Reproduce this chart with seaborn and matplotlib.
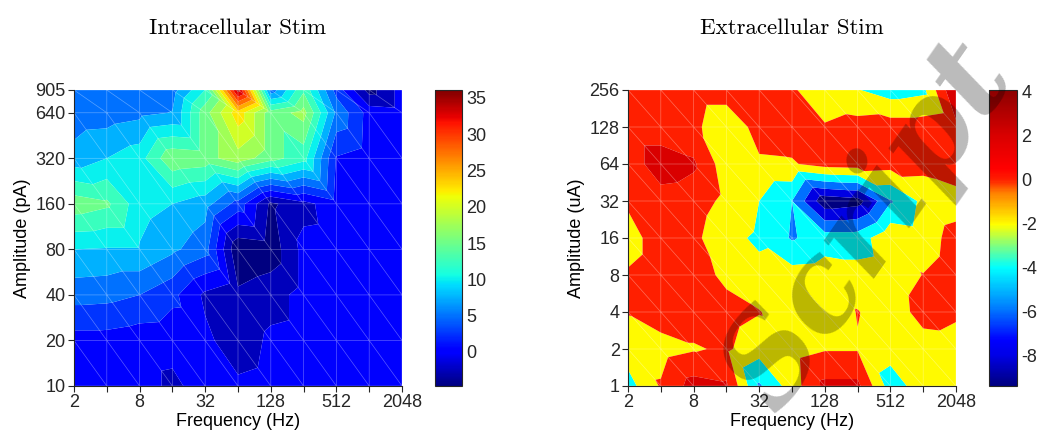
import numpy as np
import matplotlib
matplotlib.use("Agg")
import matplotlib.pyplot as plt
import matplotlib.tri as mtri
from matplotlib.colors import Normalize, LinearSegmentedColormap
from matplotlib.cm import ScalarMappable
import seaborn as sns

# ---------------------------------------------------------------- data
freq_hz = [2, 4, 8, 16, 32, 64, 128, 256, 512, 1024, 2048]
freq_ticklabels = ["2", "", "8", "", "32", "", "128", "", "512", "", "2048"]

intra_amp_pa = [10, 20, 40, 80, 160, 320, 640, 905]
extra_amp_ua = [1, 2, 4, 8, 16, 32, 64, 128, 256]

# response per amplitude row (bottom to top), one value per frequency
intra_response = [
    [1.0, 1.0, 1.0, -0.5, 1.0, 0.5, 1.0, 1.0, 1.0, 1.0, 1.0],
    [1.5, 1.5, 1.0, 0.8, 0.6, -1.5, 0.5, 0.8, 0.8, 0.8, 0.8],
    [6.0, 5.8, 5.0, 3.2, -0.5, -2.0, -1.0, 0.8, 1.0, 1.0, 1.0],
    [10.0, 9.8, 9.8, 8.0, 6.0, -4.7, -4.0, 0.8, 1.0, 1.0, 1.0],
    [16.5, 15.5, 11.0, 10.0, 8.5, 4.0, -3.0, -0.8, 1.5, 1.0, 1.0],
    [8.5, 10.0, 11.5, 17.0, 16.5, 19.0, 16.0, 13.5, 2.3, 1.2, 1.0],
    [6.0, 6.2, 6.8, 7.6, 16.5, 24.0, 16.0, 18.5, 7.0, 1.5, 1.0],
    [5.5, 5.8, 6.0, 6.5, 12.5, 36.1, 6.0, 14.5, 4.0, -3.5, 1.0],
]

extra_response = [
    [-2.8, 0.2, 2.8, 2.3, -4.3, -1.0, 2.5, 2.5, -3.0, -1.0, -1.0],
    [-1.0, -0.8, -0.2, 0.3, -1.2, -0.8, -0.15, -0.15, -1.2, -1.0, -0.8],
    [0.1, 1.0, 1.0, 0.8, 0.1, -1.2, -1.5, 0.1, -1.2, 0.8, 0.3],
    [0.2, 1.0, 1.0, -0.5, -1.5, -1.2, -1.0, -1.3, -1.0, 0.05, 1.0],
    [-0.8, 1.0, 0.5, -1.5, -2.3, -4.2, -3.0, -3.0, -0.5, -1.0, 0.8],
    [0.3, 1.2, 1.0, -0.5, -2.0, -4.0, -9.36, -8.8, -4.2, -1.5, -1.0],
    [1.0, 3.0, 2.3, -1.2, -0.3, -0.2, 0.8, 1.0, 0.8, 0.7, 1.5],
    [1.0, 1.0, 0.5, -1.5, 0.8, 1.0, 0.2, 0.8, 1.0, 1.0, 1.5],
    [1.0, 1.0, 1.0, 1.0, 1.0, 0.3, -1.5, -1.9, -3.0, -2.5, 4.05],
]

intra_levels = [-2.5, 0, 2.5, 5, 7.5, 10, 12.5, 15, 17.5, 20, 22.5, 25,
                27.5, 30, 32.5, 35]
extra_levels = [-8, -6, -4, -2, 0, 2, 4]
intra_cbar_ticks = [0, 5, 10, 15, 20, 25, 30, 35]
extra_cbar_ticks = [-8, -6, -4, -2, 0, 2, 4]

# ---------------------------------------------------------------- style
sns.set_theme(style="white")
plt.rcParams["font.family"] = ["Liberation Sans", "DejaVu Sans"]
plt.rcParams["axes.unicode_minus"] = False
INK = (0.15, 0.15, 0.15)
TICK_FS = 13

jet = plt.get_cmap("jet")

# colour map of the extracellular panel (value, colour) nodes
extra_vmin, extra_vmax = -9.36, 4.05
extra_nodes = [(-9.36, (0, 0, 0.5)), (-8.0, (0, 0, 0.9)), (-7.3, (0, 0, 1)),
               (-5.8, (0, 0.5, 1)), (-4.0, (0, 1, 1)), (-3.0, (0.5, 1, 0.5)),
               (-2.05, (1, 1, 0)), (-0.6, (1, 0.5, 0)), (0.0, (1, 0.12, 0)),
               (0.5, (1, 0, 0)), (2.0, (0.85, 0, 0)), (4.05, (0.55, 0, 0))]
extra_cmap = LinearSegmentedColormap.from_list(
    "extra_jet",
    [((v - extra_vmin) / (extra_vmax - extra_vmin), c) for v, c in extra_nodes])


def grid_triangles(nx, ny):
    tris = []
    for j in range(ny - 1):
        for i in range(nx - 1):
            bl = j * nx + i
            br = bl + 1
            tl = bl + nx
            tr = tl + 1
            tris.append([bl, br, tl])
            tris.append([br, tr, tl])
    return np.array(tris)


def draw_panel(ax, cax, amps, response, levels, cmap, ticks, ylabel):
    z = np.asarray(response, dtype=float)
    gx, gy = np.meshgrid(np.log2(freq_hz), np.log2(amps))
    tri = mtri.Triangulation(gx.ravel(), gy.ravel(),
                             grid_triangles(len(freq_hz), len(amps)))
    zf = z.ravel()
    vmin, vmax = zf.min(), zf.max()
    norm = Normalize(vmin, vmax)
    bounds = [vmin - 1e-6] + list(levels) + [vmax + 1e-6]
    band_vals = [vmin] + list(levels)
    colors = [cmap(norm(v)) for v in band_vals]
    ax.tricontourf(tri, zf, levels=bounds, colors=colors, antialiased=True)
    ax.triplot(tri, color="white", lw=0.5, alpha=0.35)

    ax.set_xlim(np.log2(freq_hz[0]), np.log2(freq_hz[-1]))
    ax.set_ylim(np.log2(amps[0]), np.log2(amps[-1]))
    ax.set_xticks(np.log2(freq_hz))
    ax.set_xticklabels(freq_ticklabels)
    ax.set_yticks(np.log2(amps))
    ax.set_yticklabels([str(a) for a in amps])
    ax.tick_params(direction="out", length=4, width=0.8, colors=INK,
                   labelsize=TICK_FS, pad=2, bottom=True, left=True)
    for s in ("top", "right"):
        ax.spines[s].set_visible(False)
    for s in ("left", "bottom"):
        ax.spines[s].set_color(INK)
        ax.spines[s].set_linewidth(0.8)
    ax.set_xlabel("Frequency (Hz)", fontsize=TICK_FS, color="black", labelpad=1)
    ax.set_ylabel(ylabel, fontsize=TICK_FS, color="black", labelpad=3)

    cb = plt.colorbar(ScalarMappable(norm=norm, cmap=cmap), cax=cax, ticks=ticks)
    cb.outline.set_edgecolor(INK)
    cb.outline.set_linewidth(0.8)
    cb.ax.tick_params(direction="in", length=4, width=0.8, colors=INK,
                      labelsize=TICK_FS, pad=3)
    cb.ax.set_yticklabels([str(t) for t in ticks])


W, H = 1044, 442
fig = plt.figure(figsize=(W / 100, H / 100), dpi=100)


def frac(x0, y0, x1, y1):
    return [x0 / W, 1 - y1 / H, (x1 - x0) / W, (y1 - y0) / H]


ax_l = fig.add_axes(frac(74, 90, 402, 386))
cax_l = fig.add_axes(frac(435, 90, 462, 386))
ax_r = fig.add_axes(frac(628, 90, 956, 386))
cax_r = fig.add_axes(frac(989, 90, 1017, 386))

draw_panel(ax_l, cax_l, intra_amp_pa, intra_response, intra_levels, jet,
           intra_cbar_ticks, "Amplitude (pA)")
draw_panel(ax_r, cax_r, extra_amp_ua, extra_response, extra_levels, extra_cmap,
           extra_cbar_ticks, "Amplitude (uA)")

fig.text(238 / W, 1 - 28 / H, "Intracellular Stim", family="cmr10",
         fontsize=16.5, ha="center", va="center", color="black")
fig.text(792 / W, 1 - 28 / H, "Extracellular Stim", family="cmr10",
         fontsize=16.5, ha="center", va="center", color="black")

# translucent lettering laid across the right-hand panel
fig.text(868 / W, 1 - 226 / H, "Script", family="DejaVu Serif", style="italic",
         weight="bold", fontsize=88, rotation=55, rotation_mode="anchor",
         ha="center", va="center", color="black", alpha=0.27, zorder=10)

fig.savefig("out.png", dpi=100)
